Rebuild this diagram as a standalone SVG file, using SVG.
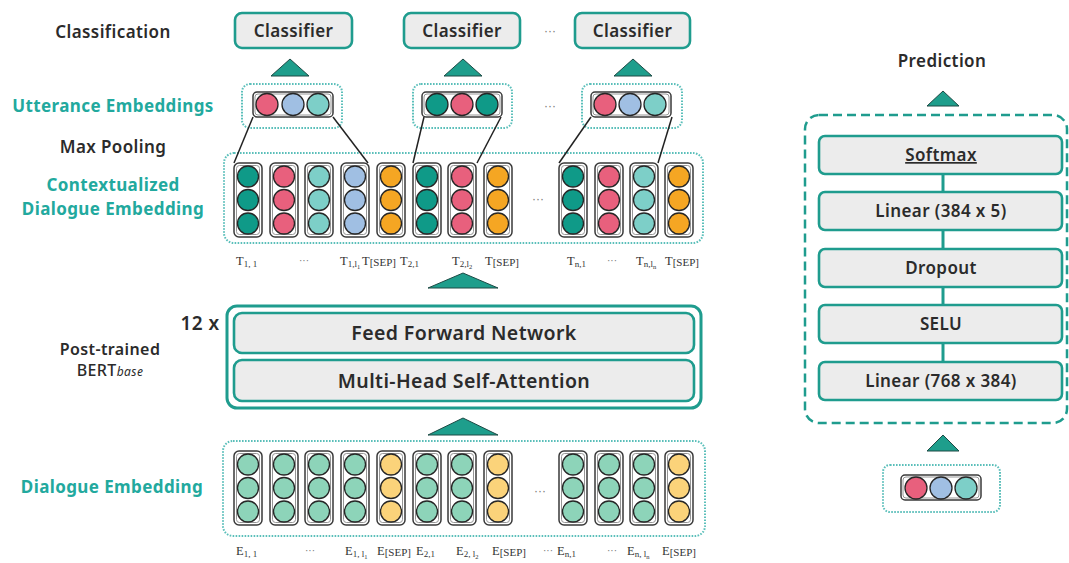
<svg xmlns="http://www.w3.org/2000/svg" xmlns:xlink="http://www.w3.org/1999/xlink" width="1069" height="563" viewBox="0 0 1069 563">
  <style>
    .lbl { font-family: "Noto Sans", "Liberation Sans", sans-serif; font-weight: 600; font-size: 17px; fill: #2b2b2b; letter-spacing: 0.4px; text-anchor: middle; }
    .teal { fill: #22a99e; font-weight: 700; }
    .box { fill: #ececec; stroke: #1f9c8e; stroke-width: 2.6; }
    .outer { fill: #ffffff; stroke: #1f9c8e; stroke-width: 3; }
    .dots { fill: none; stroke: #5bbfba; stroke-width: 2; stroke-dasharray: 1.6 1.4; }
    .dash { fill: none; stroke: #1f9c8e; stroke-width: 2.5; stroke-dasharray: 9 5; }
    .frame { fill: #ffffff; stroke: #3a3a3a; stroke-width: 1.5; }
    .frame-in { fill: none; stroke: #8a8a8a; stroke-width: 0.9; }
    .dot { stroke: #262626; stroke-width: 1.3; }
    .tri { fill: #1e9e8c; stroke: #1d4a45; stroke-width: 1; stroke-linejoin: round; }
    .pool { stroke: #222222; stroke-width: 1.5; fill: none; }
    .link { stroke: #1f9c8e; stroke-width: 3; }
    .tok { font-family: "Liberation Serif", serif; font-size: 12.5px; fill: #333333; }
    .sub { font-size: 9px; }
    .sub2 { font-size: 6.5px; }
    .sep { font-size: 11px; }
    .ell { font-family: "Liberation Sans", sans-serif; font-size: 12px; fill: #777777; text-anchor: middle; }
  </style>
  <defs>
    <!-- token column: frame with three stacked units -->
    <g id="colframe">
      <rect class="frame" x="0" y="0" width="28" height="74" rx="5"/>
      <rect class="frame-in" x="2.5" y="2.5" width="23" height="69" rx="3"/>
    </g>
    <g id="c-dt"><use xlink:href="#colframe"/><g fill="#0f9a88" class="dot"><circle cx="14" cy="13.5" r="10.5"/><circle cx="14" cy="37" r="10.5"/><circle cx="14" cy="60.5" r="10.5"/></g></g>
    <g id="c-pk"><use xlink:href="#colframe"/><g fill="#e8607d" class="dot"><circle cx="14" cy="13.5" r="10.5"/><circle cx="14" cy="37" r="10.5"/><circle cx="14" cy="60.5" r="10.5"/></g></g>
    <g id="c-lt"><use xlink:href="#colframe"/><g fill="#7dcfc8" class="dot"><circle cx="14" cy="13.5" r="10.5"/><circle cx="14" cy="37" r="10.5"/><circle cx="14" cy="60.5" r="10.5"/></g></g>
    <g id="c-lb"><use xlink:href="#colframe"/><g fill="#a0bfe3" class="dot"><circle cx="14" cy="13.5" r="10.5"/><circle cx="14" cy="37" r="10.5"/><circle cx="14" cy="60.5" r="10.5"/></g></g>
    <g id="c-or"><use xlink:href="#colframe"/><g fill="#f5a623" class="dot"><circle cx="14" cy="13.5" r="10.5"/><circle cx="14" cy="37" r="10.5"/><circle cx="14" cy="60.5" r="10.5"/></g></g>
    <g id="c-mn"><use xlink:href="#colframe"/><g fill="#8dd4b9" class="dot"><circle cx="14" cy="13.5" r="10.5"/><circle cx="14" cy="37" r="10.5"/><circle cx="14" cy="60.5" r="10.5"/></g></g>
    <g id="c-yl"><use xlink:href="#colframe"/><g fill="#fbd37a" class="dot"><circle cx="14" cy="13.5" r="10.5"/><circle cx="14" cy="37" r="10.5"/><circle cx="14" cy="60.5" r="10.5"/></g></g>
    <!-- pooled utterance vector frame -->
    <g id="uframe">
      <rect class="frame" x="0" y="0" width="80" height="25" rx="4"/>
      <rect class="frame-in" x="2" y="2" width="76" height="21" rx="3"/>
    </g>
  </defs>

  <rect width="1069" height="563" fill="#ffffff"/>

  <!-- row labels -->
  <g id="labels">
    <text class="lbl" x="113" y="38">Classification</text>
    <text class="lbl teal" x="113" y="112">Utterance Embeddings</text>
    <text class="lbl" x="113" y="153">Max Pooling</text>
    <text class="lbl teal" x="113" y="191">Contextualized</text>
    <text class="lbl teal" x="113" y="215">Dialogue Embedding</text>
    <text class="lbl" x="200" y="330" style="font-size:19px">12 x</text>
    <text class="lbl" x="110" y="355" style="font-size:16px">Post-trained</text>
    <text class="lbl" x="110" y="376" style="font-size:16px;font-weight:500">BERT<tspan style="font-style:italic;font-size:12px;font-weight:400">base</tspan></text>
    <text class="lbl teal" x="112" y="493">Dialogue Embedding</text>
  </g>

  <!-- classifier heads -->
  <g id="classifier-1">
    <rect class="box" x="235" y="13" width="117" height="35" rx="7"/>
    <text class="lbl" x="293.5" y="37">Classifier</text>
  </g>
  <g id="classifier-2">
    <rect class="box" x="404" y="13" width="116" height="35" rx="7"/>
    <text class="lbl" x="462" y="37">Classifier</text>
  </g>
  <text class="ell" x="550" y="35">···</text>
  <g id="classifier-n">
    <rect class="box" x="575" y="13" width="115" height="35" rx="7"/>
    <text class="lbl" x="632.5" y="37">Classifier</text>
  </g>

  <!-- pooled utterance embeddings -->
  <g id="utterance-1">
    <rect class="dots" x="242" y="84" width="100" height="44" rx="8"/>
    <use xlink:href="#uframe" x="253" y="92"/>
    <g class="dot"><circle cx="267" cy="104.5" r="11" fill="#e8607d"/><circle cx="293" cy="104.5" r="11" fill="#a0bfe3"/><circle cx="318" cy="104.5" r="11" fill="#7dcfc8"/></g>
  </g>
  <g id="utterance-2">
    <rect class="dots" x="413" y="84" width="99" height="44" rx="8"/>
    <use xlink:href="#uframe" x="422" y="92"/>
    <g class="dot"><circle cx="437" cy="104.5" r="11" fill="#0f9a88"/><circle cx="462" cy="104.5" r="11" fill="#e8607d"/><circle cx="487" cy="104.5" r="11" fill="#0f9a88"/></g>
  </g>
  <text class="ell" x="550" y="110">···</text>
  <g id="utterance-n">
    <rect class="dots" x="582" y="84" width="100" height="44" rx="8"/>
    <use xlink:href="#uframe" x="591" y="92"/>
    <g class="dot"><circle cx="605" cy="104.5" r="11" fill="#e8607d"/><circle cx="630" cy="104.5" r="11" fill="#a0bfe3"/><circle cx="655" cy="104.5" r="11" fill="#7dcfc8"/></g>
  </g>

  <!-- contextualized dialogue embedding -->
  <g id="contextualized-embedding">
    <rect class="dots" x="224" y="153" width="479" height="90" rx="10"/>
    <use xlink:href="#c-dt" x="234" y="163"/>
    <use xlink:href="#c-pk" x="270" y="163"/>
    <use xlink:href="#c-lt" x="305" y="163"/>
    <use xlink:href="#c-lb" x="341" y="163"/>
    <use xlink:href="#c-or" x="377" y="163"/>
    <use xlink:href="#c-dt" x="413" y="163"/>
    <use xlink:href="#c-pk" x="448" y="163"/>
    <use xlink:href="#c-or" x="484" y="163"/>
    <text class="ell" x="538" y="203">···</text>
    <use xlink:href="#c-dt" x="559" y="163"/>
    <use xlink:href="#c-pk" x="595" y="163"/>
    <use xlink:href="#c-lt" x="630" y="163"/>
    <use xlink:href="#c-or" x="665" y="163"/>
  </g>

  <!-- output token labels -->
  <g id="output-tokens" class="tok">
    <text x="236" y="265">T<tspan class="sub" dy="2">1, 1</tspan></text>
    <text class="ell" x="304" y="264" style="font-size:10px">···</text>
    <text x="340" y="265">T<tspan class="sub" dy="2">1,l</tspan><tspan class="sub2" dy="1.5">1</tspan></text>
    <text x="362" y="265">T<tspan class="sep" dy="1">[SEP]</tspan></text>
    <text x="400" y="265">T<tspan class="sub" dy="2">2,1</tspan></text>
    <text x="452" y="265">T<tspan class="sub" dy="2">2,l</tspan><tspan class="sub2" dy="1.5">2</tspan></text>
    <text x="485" y="265">T<tspan class="sep" dy="1">[SEP]</tspan></text>
    <text x="567" y="265">T<tspan class="sub" dy="2">n,1</tspan></text>
    <text class="ell" x="612" y="264" style="font-size:10px">···</text>
    <text x="636" y="265">T<tspan class="sub" dy="2">n,l</tspan><tspan class="sub2" dy="1.5">n</tspan></text>
    <text x="665" y="265">T<tspan class="sep" dy="1">[SEP]</tspan></text>
  </g>

  <!-- encoder stack -->
  <g id="bert-encoder">
    <rect class="outer" x="227" y="306" width="474" height="102" rx="10"/>
    <rect class="box" x="234" y="313" width="460" height="40" rx="8"/>
    <text class="lbl" x="464" y="340" style="font-size:19.5px">Feed Forward Network</text>
    <rect class="box" x="234" y="360" width="460" height="41" rx="8"/>
    <text class="lbl" x="464" y="388" style="font-size:19.5px">Multi-Head Self-Attention</text>
  </g>

  <!-- input dialogue embedding -->
  <g id="dialogue-embedding">
    <rect class="dots" x="223" y="441" width="482" height="95" rx="10"/>
    <use xlink:href="#c-mn" x="234" y="451"/>
    <use xlink:href="#c-mn" x="270" y="451"/>
    <use xlink:href="#c-mn" x="305" y="451"/>
    <use xlink:href="#c-mn" x="341" y="451"/>
    <use xlink:href="#c-yl" x="377" y="451"/>
    <use xlink:href="#c-mn" x="413" y="451"/>
    <use xlink:href="#c-mn" x="448" y="451"/>
    <use xlink:href="#c-yl" x="484" y="451"/>
    <text class="ell" x="540" y="495">···</text>
    <use xlink:href="#c-mn" x="559" y="451"/>
    <use xlink:href="#c-mn" x="595" y="451"/>
    <use xlink:href="#c-mn" x="630" y="451"/>
    <use xlink:href="#c-yl" x="665" y="451"/>
  </g>

  <!-- input token labels -->
  <g id="input-tokens" class="tok">
    <text x="236" y="555">E<tspan class="sub" dy="2">1, 1</tspan></text>
    <text class="ell" x="310" y="554" style="font-size:10px">···</text>
    <text x="345" y="555">E<tspan class="sub" dy="2">1, l</tspan><tspan class="sub2" dy="1.5">1</tspan></text>
    <text x="377" y="555">E<tspan class="sep" dy="1">[SEP]</tspan></text>
    <text x="416" y="555">E<tspan class="sub" dy="2">2,1</tspan></text>
    <text x="456" y="555">E<tspan class="sub" dy="2">2, l</tspan><tspan class="sub2" dy="1.5">2</tspan></text>
    <text x="492" y="555">E<tspan class="sep" dy="1">[SEP]</tspan></text>
    <text class="ell" x="548" y="554" style="font-size:10px">···</text>
    <text x="557" y="555">E<tspan class="sub" dy="2">n,1</tspan></text>
    <text class="ell" x="612" y="554" style="font-size:10px">···</text>
    <text x="627" y="555">E<tspan class="sub" dy="2">n, l</tspan><tspan class="sub2" dy="1.5">n</tspan></text>
    <text x="662" y="555">E<tspan class="sep" dy="1">[SEP]</tspan></text>
  </g>

  <!-- prediction head -->
  <text class="lbl" x="942" y="67">Prediction</text>
  <g id="prediction-head">
    <rect class="dash" x="805" y="115" width="262" height="308" rx="14"/>
  </g>
  <g id="softmax">
    <rect class="box" x="819" y="136" width="243" height="38" rx="6"/>
    <text class="lbl" x="941" y="161" text-decoration="underline">Softmax</text>
  </g>
  <g id="linear-2">
    <rect class="box" x="819" y="192" width="243" height="38" rx="6"/>
    <text class="lbl" x="941" y="217">Linear (384 x 5)</text>
  </g>
  <g id="dropout">
    <rect class="box" x="819" y="249" width="243" height="38" rx="6"/>
    <text class="lbl" x="941" y="274">Dropout</text>
  </g>
  <g id="selu">
    <rect class="box" x="819" y="305" width="243" height="38" rx="6"/>
    <text class="lbl" x="941" y="330">SELU</text>
  </g>
  <g id="linear-1">
    <rect class="box" x="819" y="362" width="243" height="38" rx="6"/>
    <text class="lbl" x="941" y="387">Linear (768 x 384)</text>
  </g>
  <g id="prediction-input">
    <rect class="dots" x="883" y="465" width="117" height="47" rx="7"/>
    <use xlink:href="#uframe" x="901" y="475"/>
    <g class="dot"><circle cx="916" cy="488" r="11" fill="#e8607d"/><circle cx="941" cy="488" r="11" fill="#a0bfe3"/><circle cx="966" cy="488" r="11" fill="#7dcfc8"/></g>
  </g>

  <!-- connectors -->
  <g id="connectors">
    <polygon class="tri" points="271,76 290,59 309,76"/>
    <polygon class="tri" points="444,76 463,59 482,76"/>
    <polygon class="tri" points="614,76 633,59 652,76"/>
    <line class="pool" x1="253" y1="117" x2="234" y2="163"/>
    <line class="pool" x1="333" y1="117" x2="368" y2="163"/>
    <line class="pool" x1="424" y1="117" x2="413" y2="163"/>
    <line class="pool" x1="501" y1="117" x2="477" y2="163"/>
    <line class="pool" x1="591" y1="117" x2="559" y2="163"/>
    <line class="pool" x1="672" y1="117" x2="658" y2="163"/>
    <polygon class="tri" points="428,288 463,273 498,288"/>
    <polygon class="tri" points="428,435 463,418 498,435"/>
    <polygon class="tri" points="927,106 943,91 959,106"/>
    <polygon class="tri" points="927,451 943,435 959,451"/>
    <line class="link" x1="943" y1="174" x2="943" y2="192"/>
    <line class="link" x1="943" y1="230" x2="943" y2="249"/>
    <line class="link" x1="943" y1="287" x2="943" y2="305"/>
    <line class="link" x1="943" y1="343" x2="943" y2="362"/>
  </g>
</svg>
